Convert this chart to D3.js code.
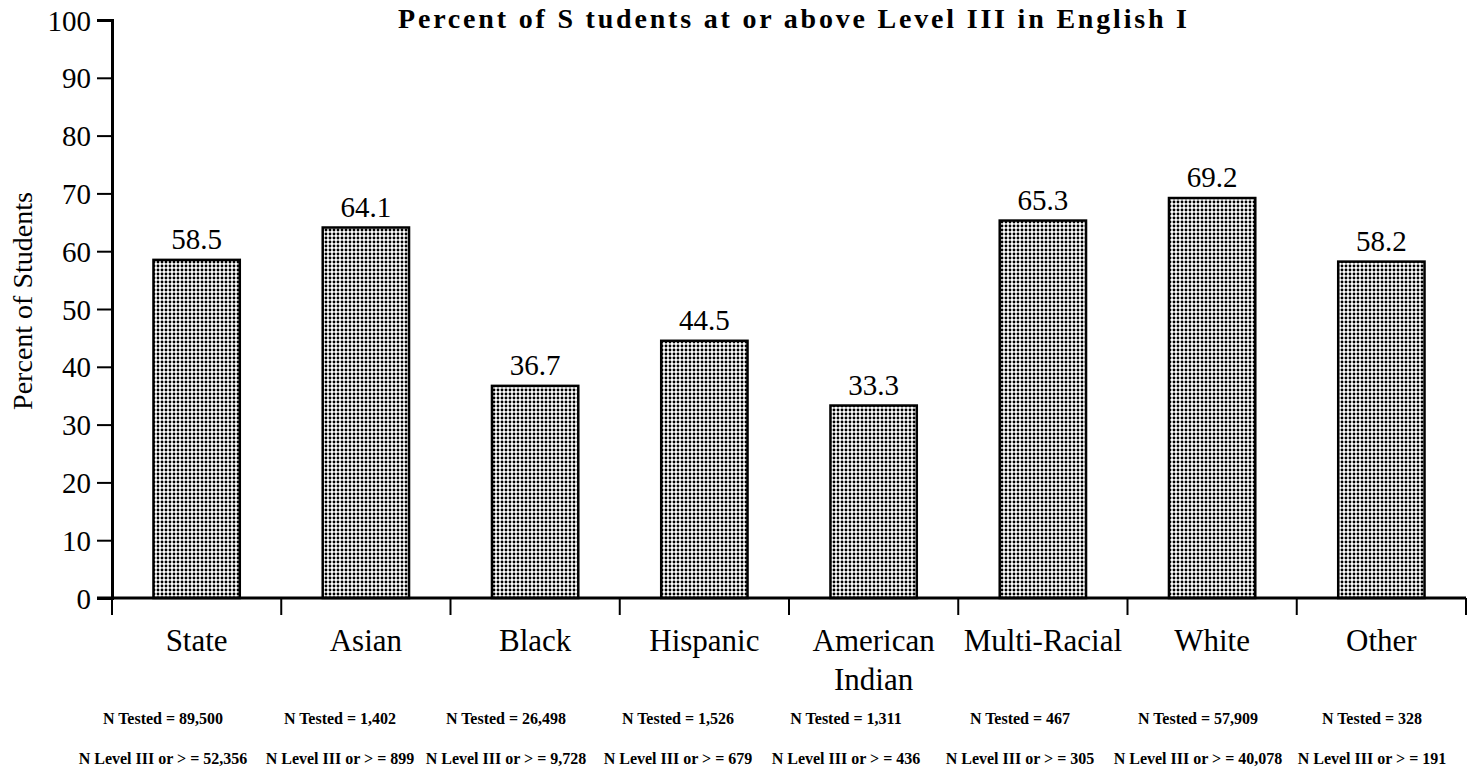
<!DOCTYPE html>
<html><head><meta charset="utf-8">
<script src="https://cdn.jsdelivr.net/npm/d3@7"></script>
<style>body{margin:0;background:#fff}svg{display:block}text{font-family:"Liberation Serif","Times New Roman",serif;fill:#000}</style>
</head><body><svg id="c" width="1474" height="768"></svg>
<script>
const categories = ["State","Asian","Black","Hispanic","American Indian","Multi-Racial","White","Other"];
const values = [58.5,64.1,36.7,44.5,33.3,65.3,69.2,58.2];
const nTested = ["89,500","1,402","26,498","1,526","1,311","467","57,909","328"];
const nLevel = ["52,356","899","9,728","679","436","305","40,078","191"];
const yTicks = [0,10,20,30,40,50,60,70,80,90,100];
// layout: x centres of the footnote text blocks
const footX = [163,340,506,678,846,1020,1198,1372];

const svg = d3.select("#c");
const m = {l:112, r:1466, t:20, b:598};
const x = d3.scaleBand().domain(categories).range([m.l, m.r]).paddingInner(0.49).paddingOuter(0.245);
const xEdge = d3.scaleLinear().domain([0, categories.length]).range([m.l, m.r]);
const y = d3.scaleLinear().domain([0,100]).range([m.b, m.t]);

const defs = svg.append("defs");
const pat = defs.append("pattern").attr("id","dots").attr("patternUnits","userSpaceOnUse").attr("width",4).attr("height",4);
pat.append("rect").attr("width",4).attr("height",4).attr("fill","#fff");
pat.append("circle").attr("cx",2).attr("cy",2).attr("r",1.45).attr("fill","#000");

// title
svg.append("text").attr("x",398).attr("y",28)
  .attr("textLength",789).attr("lengthAdjust","spacing")
  .style("font-size","28px").style("font-weight","bold").text("Percent of S tudents at or above Level III in English I");

// y label
svg.append("text").attr("transform","translate(32,301) rotate(-90)").attr("text-anchor","middle")
  .style("font-size","28px").text("Percent of Students");

// bars
svg.selectAll("rect.bar").data(values).join("rect").attr("class","bar")
  .attr("x",(d,i)=>x(categories[i])).attr("width",x.bandwidth())
  .attr("y",d=>y(d)).attr("height",d=>y(0)-y(d))
  .attr("fill","url(#dots)").attr("stroke","#000").attr("stroke-width",2.5);

// value labels
svg.selectAll("text.val").data(values).join("text").attr("class","val")
  .attr("x",(d,i)=>x(categories[i])+x.bandwidth()/2).attr("y",d=>y(d)-11)
  .attr("text-anchor","middle").style("font-size","29px").text(d=>d.toFixed(1));

// y axis
const ya = svg.append("g").attr("transform",`translate(${m.l},0)`)
  .call(d3.axisLeft(y).tickValues(yTicks).tickSize(15).tickPadding(6));
ya.select(".domain").attr("stroke-width",3);
ya.selectAll(".tick line").attr("stroke-width",2);
ya.selectAll(".tick text").style("font-size","29px").attr("dy","0.35em");

// x axis line and ticks
svg.append("line").attr("x1",m.l-15).attr("x2",m.r).attr("y1",m.b).attr("y2",m.b).attr("stroke","#000").attr("stroke-width",3);
svg.selectAll("line.xt").data(d3.range(categories.length+1)).join("line").attr("class","xt")
  .attr("x1",d=>xEdge(d)).attr("x2",d=>xEdge(d)).attr("y1",m.b).attr("y2",m.b+17)
  .attr("stroke","#000").attr("stroke-width",2);

// category labels
categories.forEach((c,i)=>{
  const cx = x(c)+x.bandwidth()/2;
  const parts = c==="American Indian" ? ["American","Indian"] : [c];
  parts.forEach((p,j)=>{
    svg.append("text").attr("x",cx).attr("y",651+j*39).attr("text-anchor","middle").style("font-size","31px").text(p);
  });
  svg.append("text").attr("x",footX[i]).attr("y",724).attr("text-anchor","middle")
    .style("font-size","16px").style("font-weight","bold").text("N Tested = "+nTested[i]);
  svg.append("text").attr("x",footX[i]).attr("y",764).attr("text-anchor","middle")
    .style("font-size","16px").style("font-weight","bold").text("N Level III or > = "+nLevel[i]);
});
</script></body></html>
